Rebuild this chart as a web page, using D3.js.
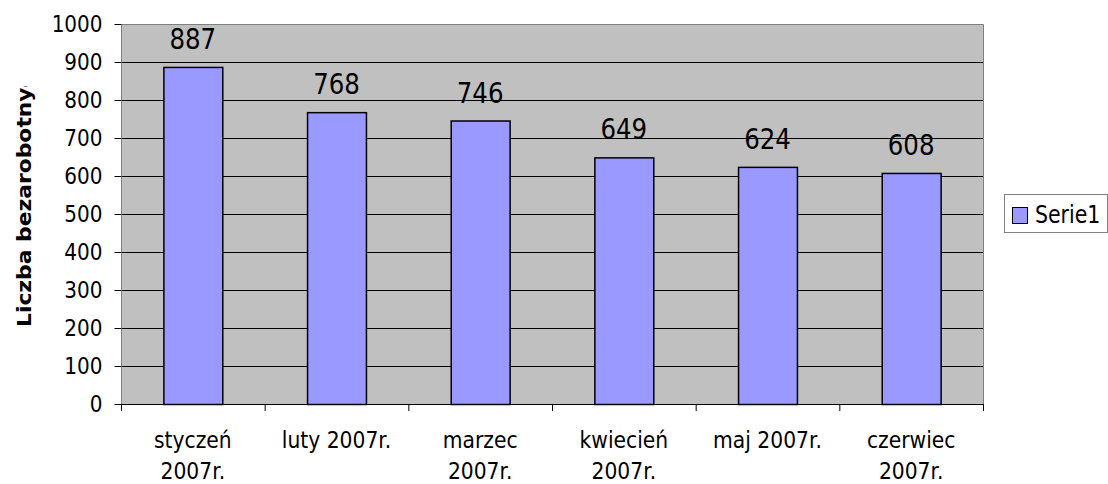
<!DOCTYPE html>
<html>
<head>
<meta charset="utf-8">
<script src="https://cdn.jsdelivr.net/npm/d3@7"></script>
<style>
  body { margin: 0; background: #fff; }
  svg { display: block; font-family: "DejaVu Sans", sans-serif; }
</style>
</head>
<body>
<div id="chart"></div>
<script>
// chart data
const categories = [
  ["styczeń", "2007r."],
  ["luty 2007r."],
  ["marzec", "2007r."],
  ["kwiecień", "2007r."],
  ["maj 2007r."],
  ["czerwiec", "2007r."]
];
const values = [887, 768, 746, 649, 624, 608];
const yTicks = [0, 100, 200, 300, 400, 500, 600, 700, 800, 900, 1000];
const seriesName = "Serie1";
const yTitle = "Liczba bezarobotnych";

const width = 1108;
const height = 484;
const plot = {left: 121, top: 24, right: 983, bottom: 404};

const svg = d3.select("#chart")
  .append("svg")
  .attr("width", width)
  .attr("height", height);

const x = d3.scaleBand()
  .domain(d3.range(values.length))
  .range([plot.left, plot.right])
  .paddingInner(0)
  .paddingOuter(0);

const y = d3.scaleLinear()
  .domain([0, 1000])
  .range([plot.bottom, plot.top]);

// plot background
svg.append("rect")
  .attr("x", plot.left)
  .attr("y", plot.top)
  .attr("width", plot.right - plot.left)
  .attr("height", plot.bottom - plot.top)
  .attr("fill", "#c0c0c0");

// gridlines
svg.append("g")
  .selectAll("line")
  .data(yTicks.filter(t => t > 0 && t < 1000))
  .join("line")
    .attr("x1", plot.left)
    .attr("x2", plot.right)
    .attr("y1", d => y(d) + 0.5)
    .attr("y2", d => y(d) + 0.5)
    .attr("stroke", "#000")
    .attr("stroke-width", 1);

// plot border (top/right/left gray)
svg.append("path")
  .attr("d", `M${plot.left + 0.5},${plot.bottom}V${plot.top + 0.5}H${plot.right + 0.5}V${plot.bottom}`)
  .attr("fill", "none")
  .attr("stroke", "#808080");

// bars
const bw = x.bandwidth() * 0.41;
svg.append("g")
  .selectAll("rect")
  .data(values)
  .join("rect")
    .attr("x", (d, i) => x(i) + (x.bandwidth() - bw) / 2 + 0.5)
    .attr("y", d => y(d) + 0.5)
    .attr("width", bw)
    .attr("height", d => plot.bottom - y(d))
    .attr("fill", "#9999ff")
    .attr("stroke", "#000")
    .attr("stroke-width", 1.5);

// y axis
const yAxis = svg.append("g")
  .attr("transform", `translate(${plot.left + 0.5},0)`)
  .call(d3.axisLeft(y).tickValues(yTicks).tickSize(7).tickPadding(12).tickFormat(d3.format("d")));
yAxis.select(".domain").remove();
yAxis.selectAll(".tick line").attr("stroke", "#000");
yAxis.selectAll(".tick text")
  .attr("font-size", 20)
  .attr("font-family", "DejaVu Sans")
  .attr("fill", "#000")
  .attr("dy", "0.32em")
  .attr("transform", "translate(-19,0) scale(1,1.16)")
  .attr("x", 0);

// x axis line and ticks
svg.append("line")
  .attr("x1", plot.left)
  .attr("x2", plot.right + 1)
  .attr("y1", plot.bottom + 0.5)
  .attr("y2", plot.bottom + 0.5)
  .attr("stroke", "#000");
svg.append("g")
  .selectAll("line")
  .data(d3.range(values.length + 1))
  .join("line")
    .attr("x1", i => (i < values.length ? x(i) : plot.right) + 0.5)
    .attr("x2", i => (i < values.length ? x(i) : plot.right) + 0.5)
    .attr("y1", plot.bottom)
    .attr("y2", plot.bottom + 7)
    .attr("stroke", "#000");

// category labels
const catLabel = svg.append("g")
  .selectAll("text")
  .data(categories)
  .join("text")
    .attr("text-anchor", "middle")
    .attr("font-size", 20.3)
    .attr("fill", "#000")
    .attr("transform", (d, i) => `translate(${x(i) + x.bandwidth() / 2},448) scale(1,1.1)`);
catLabel.selectAll("tspan")
  .data(d => d)
  .join("tspan")
    .attr("x", 0)
    .attr("y", (d, i) => i * 28.3)
    .text(d => d);

// data labels
svg.append("g")
  .selectAll("text")
  .data(values)
  .join("text")
    .attr("text-anchor", "middle")
    .attr("font-size", 24.5)
    .attr("fill", "#000")
    .attr("transform", (d, i) => `translate(${x(i) + x.bandwidth() / 2},${y(d) - 18}) scale(1,1.18)`)
    .text(d => d);

// y axis title (clipped like the original)
svg.append("clipPath")
  .attr("id", "ytitle-clip")
  .append("rect")
    .attr("x", 0)
    .attr("y", 86)
    .attr("width", 60)
    .attr("height", 400);
svg.append("g")
  .attr("clip-path", "url(#ytitle-clip)")
  .append("text")
    .attr("transform", "translate(31,327) rotate(-90) scale(1.15,1)")
    .attr("font-size", 19)
    .attr("font-weight", "bold")
    .attr("fill", "#000")
    .text(yTitle);

// legend
const legend = svg.append("g");
legend.append("rect")
  .attr("x", 1004.5)
  .attr("y", 194.5)
  .attr("width", 103)
  .attr("height", 38)
  .attr("fill", "#fff")
  .attr("stroke", "#808080");
legend.append("rect")
  .attr("x", 1012.5)
  .attr("y", 207.5)
  .attr("width", 15)
  .attr("height", 16)
  .attr("fill", "#9999ff")
  .attr("stroke", "#000");
legend.append("text")
  .attr("transform", "translate(1035,223) scale(1,1.18)")
  .attr("font-size", 20.5)
  .attr("fill", "#000")
  .text(seriesName);
</script>
</body>
</html>
